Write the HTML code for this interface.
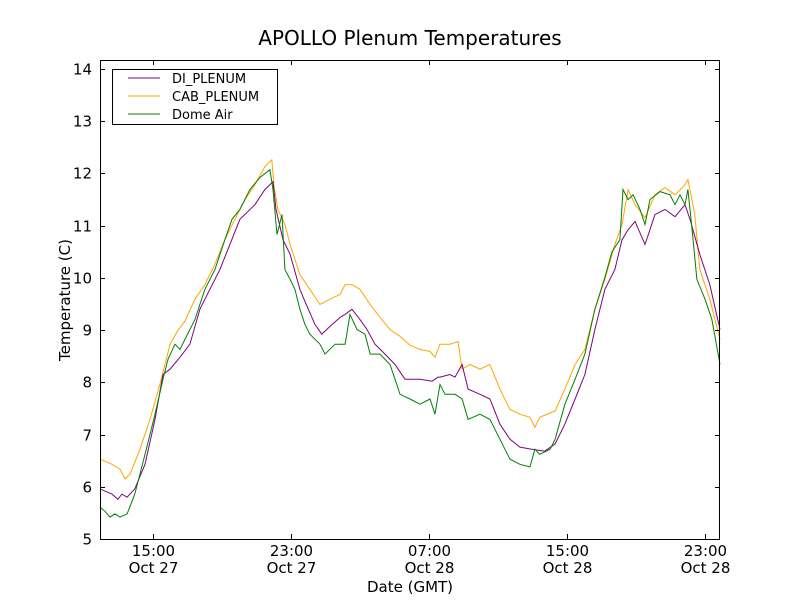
<!DOCTYPE html>
<html><head><meta charset="utf-8"><style>
body{margin:0;background:#fff}
svg text{font-family:"DejaVu Sans","Liberation Sans",sans-serif;fill:#000}
</style></head><body>
<svg id="chart" width="800" height="600">
<rect width="800" height="600" fill="#fff"/>
<text x="410" y="45" font-size="20" text-anchor="middle">APOLLO Plenum Temperatures</text>
<g id="plot"></g>
<rect x="100.5" y="60.5" width="619" height="479" fill="none" stroke="#000" stroke-width="1"/>
<g id="ticks"></g>
<text x="410" y="592" font-size="15" text-anchor="middle">Date (GMT)</text>
<text transform="translate(70,300) rotate(-90)" font-size="15" text-anchor="middle">Temperature (C)</text>
<g>
<rect x="112.5" y="69.5" width="165" height="55" fill="#fff" stroke="#000"/>
<line x1="128" y1="78" x2="160" y2="78" stroke="purple"/>
<text x="172" y="83" font-size="13">DI_PLENUM</text>
<line x1="128" y1="96" x2="160" y2="96" stroke="orange"/>
<text x="172" y="101" font-size="13">CAB_PLENUM</text>
<line x1="128" y1="114" x2="160" y2="114" stroke="green"/>
<text x="172" y="119" font-size="13">Dome Air</text>
</g>
</svg>
<script>
// hours since Oct 27 00:00 GMT
const cabTimes=[11.93,12.62,13.09,13.38,13.67,14.25,14.83,15.40,15.70,15.99,16.44,16.85,17.43,18.01,18.59,19.17,19.75,20.34,20.91,21.49,21.89,22.01,22.24,22.65,22.95,23.52,24.10,24.68,25.26,25.84,26.14,26.53,27.00,27.59,28.16,28.74,29.32,29.90,30.48,31.06,31.35,31.64,32.22,32.68,32.92,33.37,33.96,34.53,35.11,35.69,36.27,36.85,37.14,37.42,38.31,38.88,39.47,40.04,40.62,41.20,41.78,42.19,42.54,42.94,43.52,44.10,44.68,45.26,45.84,46.01,46.41,46.70,47.28,47.87];
const cabValues=[6.53,6.43,6.34,6.15,6.24,6.72,7.29,7.96,8.34,8.73,8.99,9.17,9.59,9.87,10.26,10.73,11.12,11.50,11.78,12.13,12.26,11.78,11.31,11.02,10.64,10.06,9.78,9.49,9.59,9.68,9.87,9.87,9.78,9.49,9.24,9.01,8.88,8.71,8.63,8.59,8.48,8.73,8.73,8.78,8.25,8.34,8.25,8.34,7.87,7.48,7.39,7.33,7.14,7.33,7.45,7.87,8.34,8.63,9.40,9.97,10.64,11.02,11.69,11.40,11.15,11.59,11.73,11.59,11.78,11.88,11.21,10.16,9.59,8.82];
const diTimes=[11.93,12.62,12.97,13.20,13.50,13.95,14.54,15.12,15.58,15.99,16.57,17.14,17.72,18.30,18.88,19.46,20.04,20.91,21.49,21.96,22.13,22.54,22.95,23.52,23.81,24.39,24.79,25.26,25.84,26.14,26.53,27.00,27.41,27.87,28.45,29.03,29.61,30.48,31.18,31.53,31.64,32.22,32.51,32.92,33.27,33.96,34.53,35.11,35.69,36.27,36.96,37.71,38.31,38.88,39.47,40.04,40.62,41.20,41.78,42.19,42.54,42.94,43.52,44.10,44.68,45.26,45.84,46.13,46.70,47.28,47.87];
const diValues=[5.96,5.86,5.76,5.86,5.80,5.96,6.43,7.29,8.15,8.25,8.48,8.73,9.40,9.78,10.16,10.64,11.12,11.40,11.69,11.84,11.31,10.73,10.45,9.78,9.55,9.11,8.92,9.07,9.24,9.30,9.40,9.20,9.01,8.73,8.54,8.34,8.06,8.06,8.02,8.10,8.10,8.15,8.10,8.34,7.87,7.77,7.68,7.20,6.91,6.76,6.72,6.68,6.82,7.20,7.68,8.15,9.01,9.78,10.16,10.73,10.92,11.08,10.64,11.21,11.31,11.17,11.40,11.12,10.45,9.87,9.01];
const domeTimes=[11.93,12.22,12.51,12.80,13.09,13.50,13.95,14.54,15.12,15.58,15.87,16.27,16.57,16.85,17.43,18.01,18.59,19.17,19.58,20.04,20.62,21.20,21.78,21.96,22.19,22.48,22.65,22.95,23.23,23.52,23.81,24.10,24.68,24.97,25.55,26.14,26.42,26.83,27.29,27.59,28.16,28.74,29.03,29.32,29.90,30.48,31.06,31.35,31.64,31.93,32.51,32.92,33.27,33.96,34.53,35.11,35.69,36.27,36.85,37.14,37.42,38.02,38.31,38.88,39.47,40.04,40.62,41.20,41.61,42.07,42.25,42.54,42.83,43.23,43.52,43.81,44.39,44.97,45.26,45.55,45.84,46.01,46.25,46.53,47.00,47.40,47.87];
const domeValues=[5.61,5.53,5.42,5.48,5.42,5.48,5.86,6.62,7.39,8.06,8.44,8.73,8.63,8.82,9.20,9.78,10.16,10.73,11.12,11.31,11.69,11.92,12.07,11.69,10.83,11.21,10.16,9.97,9.78,9.40,9.11,8.92,8.73,8.54,8.73,8.73,9.30,9.01,8.92,8.54,8.54,8.34,8.06,7.77,7.68,7.58,7.68,7.39,7.96,7.77,7.77,7.68,7.29,7.39,7.29,6.91,6.53,6.43,6.38,6.72,6.62,6.72,6.91,7.58,8.06,8.54,9.40,10.01,10.50,10.73,11.69,11.50,11.59,11.31,11.02,11.50,11.65,11.59,11.40,11.59,11.40,11.69,10.92,9.97,9.59,9.20,8.34];
const yTicks=[5,6,7,8,9,10,11,12,13,14];
const xTickHours=[15,23,31,39,47];
const xTickTimes=["15:00","23:00","07:00","15:00","23:00"];
const xTickDates=["Oct 27","Oct 27","Oct 28","Oct 28","Oct 28"];

const X0=100,X1=720,Y0=539,Y1=60;
const xMin=11.93,xMax=47.87,yMin=5,yMax=14.17;
const sx=h=>X0+(h-xMin)/(xMax-xMin)*(X1-X0);
const sy=v=>Y0-(v-yMin)/(yMax-yMin)*(Y0-Y1);
const NS="http://www.w3.org/2000/svg";
const plot=document.getElementById('plot'),ticks=document.getElementById('ticks');
function series(t,v,color,name){
  const p=document.createElementNS(NS,'polyline');
  p.setAttribute('points',t.map((h,i)=>sx(h).toFixed(1)+','+sy(v[i]).toFixed(1)).join(' '));
  p.setAttribute('fill','none');p.setAttribute('stroke',color);p.setAttribute('stroke-width','1');
  
  
  plot.appendChild(p);
}
series(cabTimes,cabValues,'orange','cab-plenum-line');
series(diTimes,diValues,'purple','di-plenum-line');
series(domeTimes,domeValues,'green','dome-air-line');
function ln(x1,y1,x2,y2){const l=document.createElementNS(NS,'line');l.setAttribute('x1',x1);l.setAttribute('y1',y1);l.setAttribute('x2',x2);l.setAttribute('y2',y2);l.setAttribute('stroke','#000');


ticks.appendChild(l);}
function tx(x,y,s,anchor,name){const t=document.createElementNS(NS,'text');t.setAttribute('x',x);t.setAttribute('y',y);t.setAttribute('font-size','15');t.setAttribute('text-anchor',anchor);t.textContent=s;


ticks.appendChild(t);}
yTicks.forEach(v=>{const y=Math.round(sy(v))+0.5;ln(X0,y,X0+5,y);ln(X1-5,y,X1,y);tx(92,y+5,String(v),'end','y-tick-label');});
xTickHours.forEach((h,i)=>{const x=Math.round(sx(h))+0.5;ln(x,Y0,x,Y0-5);ln(x,Y1,x,Y1+5);tx(x,556,xTickTimes[i],'middle','x-tick-time');tx(x,573,xTickDates[i],'middle','x-tick-date');});
</script>
</body></html>
